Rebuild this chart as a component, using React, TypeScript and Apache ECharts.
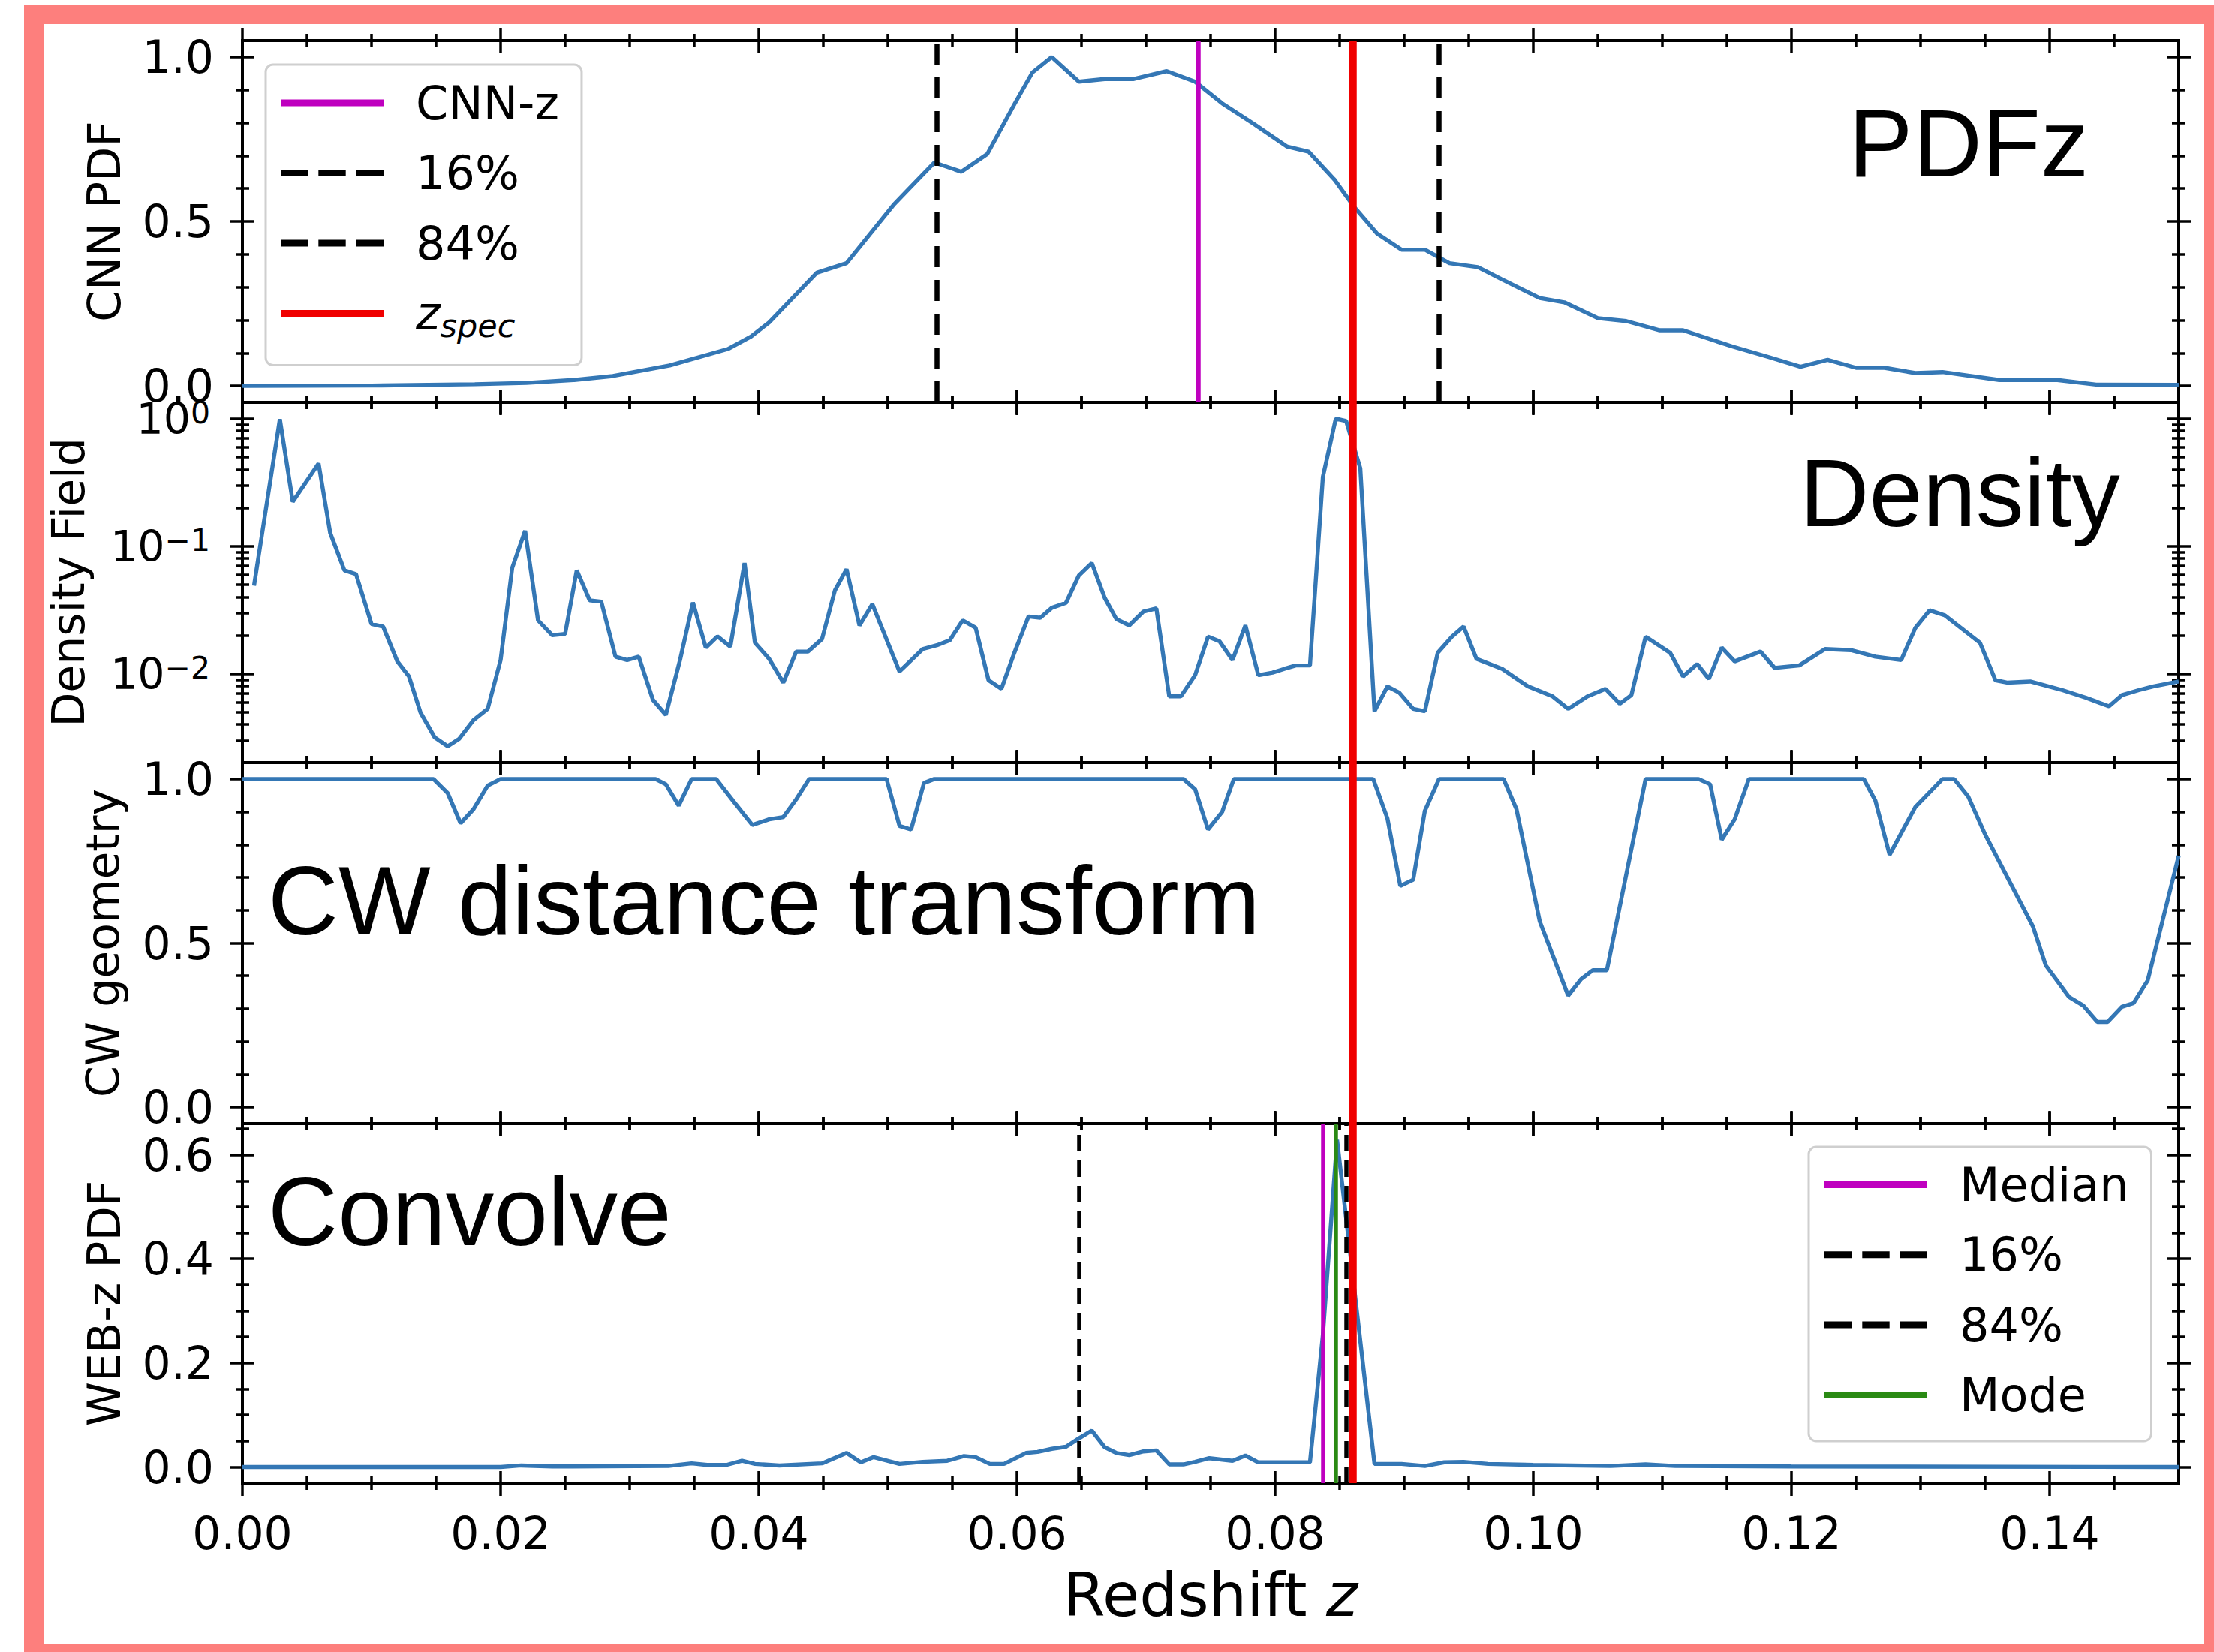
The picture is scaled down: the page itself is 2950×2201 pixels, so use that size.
import React, { useEffect, useRef } from 'react';
import * as echarts from 'echarts';

// ================= DATA =================
// [redshift z, CNN PDF]
const cnnPdfPoints: number[][] = [
  [0.0, 0.0], [0.01, 0.001], [0.018, 0.005], [0.022, 0.009], [0.0257, 0.018], [0.0287, 0.03],
  [0.0331, 0.062], [0.0376, 0.112], [0.0394, 0.15], [0.0408, 0.193], [0.0445, 0.344], [0.0468, 0.373],
  [0.0505, 0.553], [0.0536, 0.679], [0.0557, 0.651], [0.0577, 0.705], [0.0598, 0.856], [0.0612, 0.953],
  [0.0627, 1.0], [0.0648, 0.925], [0.0668, 0.933], [0.069, 0.933], [0.0716, 0.957], [0.0738, 0.925],
  [0.0759, 0.859], [0.0783, 0.798], [0.0809, 0.728], [0.0826, 0.712], [0.0846, 0.627], [0.0861, 0.545],
  [0.0879, 0.463], [0.0898, 0.414], [0.0916, 0.414], [0.0935, 0.373], [0.0957, 0.361], [0.0975, 0.325],
  [0.1005, 0.267], [0.1024, 0.254], [0.105, 0.206], [0.1072, 0.197], [0.1098, 0.169], [0.1116, 0.169],
  [0.1154, 0.12], [0.1183, 0.087], [0.1207, 0.058], [0.1228, 0.079], [0.125, 0.055], [0.1272, 0.055],
  [0.1296, 0.039], [0.1317, 0.042], [0.1361, 0.018], [0.1406, 0.018], [0.1436, 0.004], [0.15, 0.003],
];

// [redshift z, density field]
const densityPoints: number[][] = [
  [0.0009, 0.049], [0.0018, 0.19], [0.0029, 0.99], [0.0039, 0.223], [0.0059, 0.445], [0.0068, 0.127],
  [0.0079, 0.0646], [0.0088, 0.0603], [0.01, 0.0245], [0.0109, 0.0234], [0.012, 0.0125], [0.0129, 0.00953],
  [0.0138, 0.00495], [0.0149, 0.00316], [0.0159, 0.0027], [0.0168, 0.00309], [0.0179, 0.00433], [0.019, 0.0053],
  [0.02, 0.0128], [0.0209, 0.0675], [0.0219, 0.132], [0.0229, 0.0262], [0.024, 0.02], [0.025, 0.0205],
  [0.0259, 0.0646], [0.0269, 0.0376], [0.0278, 0.0367], [0.0289, 0.0136], [0.0298, 0.0128], [0.0307, 0.0136],
  [0.0318, 0.00624], [0.0328, 0.00475], [0.0339, 0.0128], [0.0349, 0.0361], [0.0359, 0.016], [0.0368, 0.0196],
  [0.0378, 0.0163], [0.0389, 0.0738], [0.0397, 0.0175], [0.0408, 0.0131], [0.0419, 0.00851], [0.0429, 0.0149],
  [0.0438, 0.0149], [0.0449, 0.0187], [0.0459, 0.045], [0.0468, 0.0659], [0.0478, 0.0239], [0.0488, 0.0351],
  [0.0509, 0.0104], [0.0527, 0.0156], [0.0538, 0.0167], [0.0548, 0.0183], [0.0558, 0.0262], [0.0568, 0.0229],
  [0.0578, 0.00889], [0.0588, 0.00762], [0.0598, 0.0146], [0.0609, 0.0281], [0.0618, 0.0274], [0.0627, 0.0328],
  [0.0638, 0.0359], [0.0648, 0.0589], [0.0658, 0.0738], [0.0668, 0.0393], [0.0677, 0.0268], [0.0687, 0.0239],
  [0.0698, 0.0307], [0.0708, 0.0325], [0.0718, 0.00664], [0.0727, 0.00664], [0.0738, 0.00973], [0.0748, 0.0195],
  [0.0757, 0.0179], [0.0767, 0.0128], [0.0777, 0.0239], [0.0787, 0.00973], [0.0798, 0.0102], [0.0807, 0.0109],
  [0.0816, 0.0116], [0.0827, 0.0116], [0.0837, 0.349], [0.0847, 1.0], [0.0855, 0.959], [0.0866, 0.408],
  [0.0877, 0.00508], [0.0887, 0.00794], [0.0896, 0.00713], [0.0907, 0.0053], [0.0916, 0.00508], [0.0926, 0.0146],
  [0.0937, 0.0195], [0.0946, 0.0234], [0.0956, 0.0131], [0.0976, 0.0109], [0.0996, 0.00794], [0.1015, 0.00664],
  [0.1027, 0.0053], [0.1042, 0.00664], [0.1056, 0.0076], [0.1067, 0.00581], [0.1076, 0.00679], [0.1087, 0.0195],
  [0.1106, 0.0146], [0.1116, 0.00953], [0.1127, 0.0119], [0.1136, 0.0091], [0.1146, 0.016], [0.1156, 0.0125],
  [0.1176, 0.0149], [0.1187, 0.0111], [0.1206, 0.0116], [0.1226, 0.0156], [0.1246, 0.0153], [0.1265, 0.0136],
  [0.1285, 0.0128], [0.1296, 0.0229], [0.1307, 0.0314], [0.1319, 0.0286], [0.1346, 0.0175], [0.1358, 0.00889],
  [0.1367, 0.00851], [0.1385, 0.00869], [0.141, 0.00743], [0.1428, 0.00649], [0.1446, 0.00555], [0.1456, 0.00679],
  [0.1469, 0.00743], [0.148, 0.00794], [0.15, 0.00869],
];

// [redshift z, CW geometry]
const cwGeometryPoints: number[][] = [
  [0.0, 1.0], [0.0148, 1.0], [0.0159, 0.957], [0.0169, 0.865], [0.0179, 0.908], [0.019, 0.98], [0.02, 1.0],
  [0.032, 1.0], [0.0328, 0.984], [0.0338, 0.919], [0.0348, 1.0], [0.0367, 1.0], [0.038, 0.934], [0.0395, 0.86],
  [0.0408, 0.877], [0.0419, 0.884], [0.0429, 0.938], [0.0439, 1.0], [0.0499, 1.0], [0.0509, 0.857], [0.0518, 0.846],
  [0.0528, 0.988], [0.0536, 1.0], [0.0729, 1.0], [0.0738, 0.969], [0.0748, 0.846], [0.0759, 0.9], [0.0768, 1.0],
  [0.0876, 1.0], [0.0887, 0.88], [0.0897, 0.674], [0.0907, 0.693], [0.0916, 0.903], [0.0927, 1.0], [0.0977, 1.0],
  [0.0987, 0.908], [0.1005, 0.566], [0.1027, 0.34], [0.1037, 0.39], [0.1046, 0.417], [0.1057, 0.417], [0.1087, 1.0],
  [0.1128, 1.0], [0.1137, 0.984], [0.1146, 0.815], [0.1156, 0.877], [0.1167, 1.0], [0.1256, 1.0], [0.1265, 0.934],
  [0.1276, 0.769], [0.1296, 0.915], [0.1317, 1.0], [0.1326, 1.0], [0.1337, 0.946], [0.135, 0.831], [0.1387, 0.551],
  [0.1397, 0.432], [0.1415, 0.336], [0.1426, 0.31], [0.1437, 0.26], [0.1445, 0.26], [0.1456, 0.306], [0.1465, 0.317],
  [0.1476, 0.386], [0.15, 0.766],
];

// [redshift z, WEB-z PDF]
const webPdfPoints: number[][] = [
  [0.0, 0.0], [0.02, 0.0], [0.0216, 0.003], [0.024, 0.001], [0.033, 0.002], [0.0348, 0.007], [0.036, 0.004],
  [0.0375, 0.004], [0.0387, 0.012], [0.0397, 0.006], [0.0416, 0.003], [0.0449, 0.007], [0.0468, 0.027],
  [0.0479, 0.009], [0.0489, 0.019], [0.0509, 0.006], [0.0527, 0.01], [0.0546, 0.012], [0.0559, 0.021],
  [0.0568, 0.019], [0.0579, 0.006], [0.059, 0.006], [0.0607, 0.027], [0.0616, 0.029], [0.0627, 0.035],
  [0.0638, 0.039], [0.0648, 0.055], [0.0658, 0.07], [0.0668, 0.038], [0.0677, 0.027], [0.0687, 0.023],
  [0.0698, 0.03], [0.0708, 0.032], [0.0718, 0.005], [0.0729, 0.005], [0.0738, 0.01], [0.0749, 0.017],
  [0.0767, 0.012], [0.0777, 0.022], [0.0787, 0.009], [0.0827, 0.009], [0.0837, 0.254], [0.0848, 0.629],
  [0.0877, 0.006], [0.0898, 0.006], [0.0916, 0.002], [0.0931, 0.009], [0.0946, 0.01], [0.0965, 0.006],
  [0.1, 0.004], [0.106, 0.002], [0.1087, 0.005], [0.111, 0.002], [0.12, 0.001], [0.15, 0.0],
];

// vertical markers (redshift values)
const zSpec = 0.086;
const cnnMarkers = { cnnZ: 0.074, p16: 0.0538, p84: 0.0927 };
const webMarkers = { median: 0.0837, p16: 0.0648, p84: 0.0855, mode: 0.0847 };

// axis ranges and ticks
const xRange = [0, 0.15];
const xTicks = [0, 0.02, 0.04, 0.06, 0.08, 0.1, 0.12, 0.14];
const xMinorTicks = [0.005, 0.01, 0.015, 0.025, 0.03, 0.035, 0.045, 0.05, 0.055, 0.065, 0.07, 0.075,
  0.085, 0.09, 0.095, 0.105, 0.11, 0.115, 0.125, 0.13, 0.135, 0.145];
const pdfRange = [-0.05, 1.05];
const pdfTicks = [0, 0.5, 1];
const pdfMinorTicks = [0.1, 0.2, 0.3, 0.4, 0.6, 0.7, 0.8, 0.9];
const densityLogRange = [-2.697, 0.128];
const densityTickExponents = [-2, -1, 0];
const cwRange = [-0.05, 1.05];
const cwTicks = [0, 0.5, 1];
const cwMinorTicks = [0.1, 0.2, 0.3, 0.4, 0.6, 0.7, 0.8, 0.9];
const webRange = [-0.031, 0.66];
const webTicks = [0, 0.2, 0.4, 0.6];
const webMinorTicks = [0.05, 0.1, 0.15, 0.25, 0.3, 0.35, 0.45, 0.5, 0.55, 0.65];

const yLabels = ['CNN PDF', 'Density Field', 'CW geometry', 'WEB-z PDF'];
const panelTexts = ['PDFz', 'Density', 'CW distance transform', 'Convolve'];

// ================= STYLE =================
const FONT = '"DejaVu Sans", sans-serif';
const ANNOT_FONT = '"Liberation Sans", Arial, Helvetica, sans-serif';
const BLUE = '#3477b5';
const MAGENTA = '#bf00bf';
const GREEN = '#2a8a14';
const RED = '#f00000';
const PINK = '#fd7f7d';
const TXT = '#000';

const GRID_LEFT = 323;
const GRID_WIDTH = 2580;
const PANEL_BOXES = [
  { top: 54, height: 482 },
  { top: 536, height: 480 },
  { top: 1016, height: 481 },
  { top: 1497, height: 479 },
];
const MAJ_IN = 16, MAJ_OUT = 17, MIN_IN = 9, MIN_OUT = 9, TICK_W = 3.5;
const TICK_FS = 60;

const DASH_ICON = 'path://M0,0H34V1H0Z M47,0H81V1H47Z M94,0H128V1H94Z';

function tickAxis(gridIndex: number, position: string, range: number[], values: number[], inLen: number, outLen: number, extra: any = {}) {
  return {
    type: 'value',
    gridIndex,
    position,
    min: range[0],
    max: range[1],
    offset: -inLen,
    axisLine: { show: false, onZero: false },
    splitLine: { show: false },
    axisTick: { show: true, inside: false, length: inLen + outLen, customValues: values, lineStyle: { color: '#000', width: TICK_W } },
    axisLabel: { show: false },
    axisPointer: { show: false },
    silent: true,
    ...extra,
  };
}

function supMinus(n: number) {
  return n < 0 ? '\u2212' + String(-n) : String(n);
}

function buildOption() {
  const densityMinor: number[] = [];
  for (const n of [-3, -2, -1, 0]) {
    for (let k = 2; k <= 9; k++) {
      const v = n + Math.log10(k);
      if (v > densityLogRange[0] && v < densityLogRange[1]) densityMinor.push(v);
    }
  }

  const yCfg = [
    { range: pdfRange, major: pdfTicks, minor: pdfMinorTicks, fmt: (v: number) => v.toFixed(1), nameGap: 170, margin: 54 },
    { range: densityLogRange, major: densityTickExponents, minor: densityMinor, fmt: (v: number) => `{b|10}{s|${supMinus(Math.round(v))}}`, nameGap: 218, margin: 59 },
    { range: cwRange, major: cwTicks, minor: cwMinorTicks, fmt: (v: number) => v.toFixed(1), nameGap: 172, margin: 54 },
    { range: webRange, major: webTicks, minor: webMinorTicks, fmt: (v: number) => v.toFixed(1), nameGap: 170, margin: 54 },
  ];

  const grids = PANEL_BOXES.map((b) => ({
    left: GRID_LEFT, width: GRID_WIDTH, top: b.top, height: b.height,
    show: true, borderColor: '#000', borderWidth: 4, backgroundColor: 'transparent', containLabel: false,
  }));

  const xAxes: any[] = [];
  const yAxes: any[] = [];
  PANEL_BOXES.forEach((_, p) => {
    const isLast = p === 3;
    xAxes.push(tickAxis(p, 'bottom', xRange, xTicks, MAJ_IN, MAJ_OUT, isLast ? {
      axisLabel: {
        show: true, customValues: xTicks, formatter: (v: number) => v.toFixed(2), margin: 53,
        fontSize: TICK_FS, fontFamily: FONT, color: TXT,
      },
      name: '{a|Redshift }{i|z}', nameLocation: 'middle', nameGap: 125,
      nameTextStyle: {
        fontFamily: FONT, fontSize: 80, color: TXT,
        rich: {
          a: { fontFamily: FONT, fontSize: 80, color: TXT },
          i: { fontFamily: FONT, fontSize: 80, fontStyle: 'italic', color: TXT },
        },
      },
    } : {}));
    xAxes.push(tickAxis(p, 'bottom', xRange, xMinorTicks, MIN_IN, MIN_OUT));
    xAxes.push(tickAxis(p, 'top', xRange, xTicks, MAJ_IN, MAJ_OUT));
    xAxes.push(tickAxis(p, 'top', xRange, xMinorTicks, MIN_IN, MIN_OUT));

    const c = yCfg[p];
    yAxes.push(tickAxis(p, 'left', c.range, c.major, MAJ_IN, MAJ_OUT, {
      axisLabel: {
        show: true, customValues: c.major, formatter: c.fmt, margin: c.margin,
        fontSize: TICK_FS, fontFamily: FONT, color: TXT,
        rich: {
          b: { fontSize: 57, fontFamily: FONT, color: TXT, lineHeight: 57, verticalAlign: 'bottom', padding: [10, 0, 0, 0] },
          s: { fontSize: 41, fontFamily: FONT, color: TXT, lineHeight: 41, verticalAlign: 'top' },
        },
      },
      name: yLabels[p], nameLocation: 'middle', nameRotate: 90, nameGap: c.nameGap,
      nameTextStyle: { fontFamily: FONT, fontSize: 60, color: TXT },
    }));
    yAxes.push(tickAxis(p, 'left', c.range, c.minor, MIN_IN, MIN_OUT));
    yAxes.push(tickAxis(p, 'right', c.range, c.major, MAJ_IN, MAJ_OUT));
    yAxes.push(tickAxis(p, 'right', c.range, c.minor, MIN_IN, MIN_OUT));
  });

  const curve = (name: string, data: number[][], p: number) => ({
    type: 'line', name, data, xAxisIndex: 4 * p, yAxisIndex: 4 * p,
    symbol: 'none', showSymbol: false, silent: true, clip: true, z: 2,
    color: BLUE, itemStyle: { color: BLUE }, lineStyle: { color: BLUE, width: 5.4 },
  });
  const vline = (name: string, x: number, p: number, color: string, width: number, type: any) => ({
    type: 'line', name, data: [], xAxisIndex: 4 * p, yAxisIndex: 4 * p,
    symbol: 'none', showSymbol: false, silent: true, z: 3,
    color, itemStyle: { color }, lineStyle: { color, width, type },
    markLine: {
      silent: true, symbol: ['none', 'none'], label: { show: false }, animation: false,
      precision: 6,
      emphasis: { disabled: true },
      lineStyle: { color, width, type, opacity: 1 },
      data: [{ xAxis: x }],
    },
  });

  const dashA = [28, 17];
  const dashB = [22, 12];

  const series: any[] = [
    curve('CNN PDF', cnnPdfPoints, 0),
    vline('CNN-z', cnnMarkers.cnnZ, 0, MAGENTA, 6.5, 'solid'),
    vline('16%', cnnMarkers.p16, 0, '#000', 6.5, dashA),
    vline('84%', cnnMarkers.p84, 0, '#000', 6.5, dashA),
    vline('z_spec', zSpec, 0, RED, 10.5, 'solid'),

    curve('Density Field', densityPoints.map((d) => [d[0], Math.log10(d[1])]), 1),
    vline('z_spec', zSpec, 1, RED, 10.5, 'solid'),

    curve('CW geometry', cwGeometryPoints, 2),
    vline('z_spec', zSpec, 2, RED, 10.5, 'solid'),

    curve('WEB-z PDF', webPdfPoints, 3),
    vline('Median', webMarkers.median, 3, MAGENTA, 5.5, 'solid'),
    vline('16%', webMarkers.p16, 3, '#000', 5.5, dashB),
    vline('84%', webMarkers.p84, 3, '#000', 5.5, dashB),
    vline('Mode', webMarkers.mode, 3, GREEN, 5.5, 'solid'),
    vline('z_spec', zSpec, 3, RED, 10.5, 'solid'),
  ];

  const legendRich = {
    t: { fontFamily: FONT, fontSize: 62, lineHeight: 62, color: TXT, padding: [0, 0, 0, 38] },
    z: { fontFamily: FONT, fontSize: 62, lineHeight: 62, color: TXT, fontStyle: 'italic', verticalAlign: 'top', padding: [0, 0, 0, 38] },
    s: { fontFamily: FONT, fontSize: 43, lineHeight: 43, color: TXT, fontStyle: 'italic', verticalAlign: 'top', padding: [26, 0, 0, 0] },
  };
  const legendBase = {
    orient: 'vertical', itemWidth: 137, itemHeight: 9, selectedMode: false,
    symbolKeepAspect: false,
    backgroundColor: 'rgba(255,255,255,0.85)', borderColor: '#cfcfcf', borderWidth: 3, borderRadius: 10,
    formatter: (name: string) => (name === 'z_spec' ? '{z|z}{s|spec}' : `{t|${name}}`),
    textStyle: { fontFamily: FONT, fontSize: 62, color: TXT, rich: legendRich },
    z: 10,
  };
  const legends = [
    {
      ...legendBase, left: 354, top: 86, itemGap: 31.5, padding: [20, 30, 31, 20],
      data: [
        { name: 'CNN-z', icon: 'rect' },
        { name: '16%', icon: DASH_ICON },
        { name: '84%', icon: DASH_ICON },
        { name: 'z_spec', icon: 'rect' },
      ],
    },
    {
      ...legendBase, left: 2410, top: 1528, itemGap: 31.3, padding: [19.5, 30, 30.5, 21],
      data: [
        { name: 'Median', icon: 'rect' },
        { name: '16%', icon: DASH_ICON },
        { name: '84%', icon: DASH_ICON },
        { name: 'Mode', icon: 'rect' },
      ],
    },
  ];

  const annot = (text: string, x: number, y: number, size: number) => ({
    type: 'text', x, y, silent: true, z: 50,
    style: { text, font: `${size}px ${ANNOT_FONT}`, fill: '#000', textAlign: 'left', textVerticalAlign: 'middle' },
  });

  const graphic = [
    {
      type: 'rect', silent: true, z: 100,
      shape: { x: 45, y: 19, width: 2905, height: 2184 },
      style: { fill: 'none', stroke: PINK, lineWidth: 26 },
    },
    annot(panelTexts[0], 2463, 190, 128),
    annot(panelTexts[1], 2398, 656, 128),
    annot(panelTexts[2], 357, 1200, 130),
    annot(panelTexts[3], 357, 1614, 129),
  ];

  return {
    animation: false,
    backgroundColor: '#ffffff',
    grid: grids,
    xAxis: xAxes,
    yAxis: yAxes,
    legend: legends,
    series,
    graphic,
  };
}

export default function App() {
  const ref = useRef<HTMLDivElement>(null);
  useEffect(() => {
    if (!ref.current) return;
    const chart = echarts.init(ref.current, null, { renderer: 'svg', width: 2950, height: 2201 });
    chart.setOption(buildOption() as any);
    return () => {
      chart.dispose();
    };
  }, []);
  return (
    <div
      ref={ref}
      style={{ position: 'fixed', left: 0, top: 0, width: 2950, height: 2201, background: '#fff' }}
    />
  );
}
